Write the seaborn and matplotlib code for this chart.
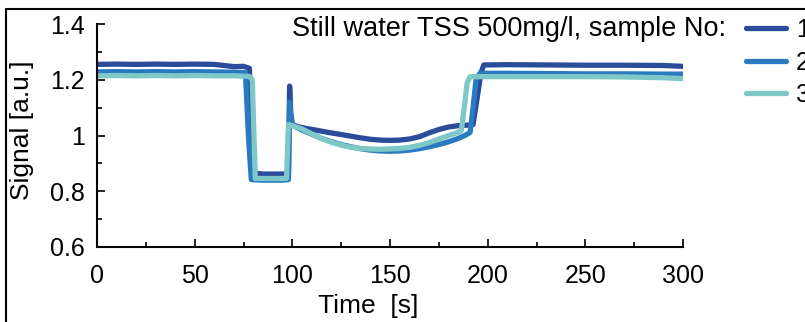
"""Signal vs time, still water TSS 500 mg/l, three samples."""

import matplotlib.pyplot as plt
import pandas as pd
import seaborn as sns
from matplotlib.lines import Line2D
from matplotlib.ticker import MultipleLocator

# sample 1 (dark blue)
t1 = [0, 10, 20, 30, 40, 50, 60, 65, 70, 75, 78, 79, 80, 85, 90, 95, 98,
      98.6, 99.2, 100, 103, 107, 112, 118, 125, 130, 135, 140, 145, 150,
      155, 160, 165, 170, 175, 180, 185, 190, 192.5, 194.5, 196.5, 198,
      210, 230, 250, 270, 290, 300]
v1 = [1.256, 1.257, 1.256, 1.257, 1.256, 1.257, 1.256, 1.252, 1.248, 1.249,
      1.242, 1.05, 0.866, 0.862, 0.862, 0.862, 0.862,
      1.178, 1.08, 1.04, 1.032, 1.026, 1.02, 1.012, 1.004, 0.998, 0.992, 0.987, 0.984, 0.983,
      0.984, 0.988, 0.996, 1.01, 1.022, 1.031, 1.036, 1.038, 1.04, 1.13, 1.225, 1.254,
      1.255, 1.254, 1.253, 1.253, 1.252, 1.249]

# sample 2 (mid blue)
t2 = [0, 10, 20, 30, 40, 50, 60, 70, 76, 77.5, 79, 85, 90, 95, 98,
      98.6, 99.3, 100, 102, 105, 110, 115, 120, 125, 130, 135, 140, 145, 150,
      155, 160, 165, 170, 175, 180, 185, 189, 191, 192.5, 194, 196,
      210, 230, 250, 270, 290, 300]
v2 = [1.229, 1.23, 1.229, 1.23, 1.229, 1.23, 1.229, 1.228, 1.226, 1.0, 0.842, 0.84, 0.84, 0.84, 0.842,
      1.12, 1.06, 1.04, 1.03, 1.02, 1.005, 0.99, 0.978, 0.968, 0.96, 0.953, 0.948, 0.945, 0.944,
      0.945, 0.948, 0.953, 0.96, 0.968, 0.978, 0.99, 1.003, 1.012, 1.1, 1.2, 1.224,
      1.224, 1.223, 1.222, 1.222, 1.221, 1.221]

# sample 3 (teal)
t3 = [0, 10, 20, 30, 40, 50, 60, 70, 78, 79.5, 81, 85, 90, 95, 97,
      98, 100, 105, 110, 115, 120, 125, 130, 135, 140, 145, 150,
      155, 160, 165, 170, 175, 180, 185, 186.5, 188, 189.5, 191,
      210, 230, 250, 270, 290, 300]
v3 = [1.215, 1.216, 1.215, 1.216, 1.215, 1.216, 1.215, 1.215, 1.213, 1.2, 0.846, 0.846, 0.846, 0.846, 0.846,
      1.04, 1.036, 1.024, 1.006, 0.99, 0.976, 0.966, 0.958, 0.954, 0.952, 0.951, 0.952,
      0.954, 0.958, 0.965, 0.975, 0.988, 1.0, 1.012, 1.018, 1.1, 1.19, 1.212,
      1.212, 1.212, 1.212, 1.211, 1.208, 1.205]

samples = ["1", "2", "3"]
colors = ["#2b4c9b", "#2a7ac2", "#7ec8c8"]

df = pd.concat([
    pd.DataFrame({"time": t, "signal": v, "sample": s})
    for t, v, s in zip([t1, t2, t3], [v1, v2, v3], samples)
])

sns.set_style("ticks")
plt.rcParams["font.family"] = ["Liberation Sans", "DejaVu Sans"]
plt.rcParams["text.color"] = "black"
plt.rcParams["axes.labelcolor"] = "black"
plt.rcParams["axes.edgecolor"] = "black"

fig = plt.figure(figsize=(8.05, 3.22), dpi=100)
ax = fig.add_axes([0.1205, 0.233, 0.728, 0.6915])

sns.lineplot(data=df, x="time", y="signal", hue="sample", palette=colors,
             estimator=None, sort=False, lw=3.8, ax=ax, legend=True)

ax.set_xlim(0, 300)
ax.set_ylim(0.6, 1.4)
ax.xaxis.set_major_locator(MultipleLocator(50))
ax.xaxis.set_minor_locator(MultipleLocator(25))
ax.yaxis.set_minor_locator(MultipleLocator(0.1))
ax.set_yticks([0.6, 0.8, 1.0, 1.2, 1.4], ["0.6", "0.8", "1", "1.2", "1.4"])
sns.despine(ax=ax)
for sp in ["left", "bottom"]:
    ax.spines[sp].set_linewidth(1.5)
ax.tick_params(which="both", direction="in", width=1.2, labelsize=18, colors="black")
ax.tick_params(which="major", length=6)
ax.tick_params(which="minor", length=3.5)
ax.tick_params(axis="x", which="major", pad=12)
ax.tick_params(axis="y", which="major", pad=9)

ax.set_xlabel("Time  [s]", fontsize=19)
ax.set_ylabel("Signal [a.u.]", fontsize=19)
ax.xaxis.set_label_coords(0.462, -0.212)
ax.yaxis.set_label_coords(-0.108, 0.525)

handles, labels = ax.get_legend_handles_labels()
ax.legend(handles, labels, loc="upper left", bbox_to_anchor=(746 / 805, 1 - 18 / 322),
          bbox_transform=fig.transFigure, frameon=False, fontsize=18,
          handlelength=1.6, handletextpad=0.4, labelspacing=0.34,
          borderpad=0, borderaxespad=0)
fig.text(726 / 805, 1 - 29 / 322, "Still water TSS 500mg/l, sample No:",
         ha="right", va="center", fontsize=19.5)

# outer frame (top and left edges visible in the original)
fig.add_artist(Line2D([6 / 805, 6 / 805], [0, 1 - 9 / 322], color="black", lw=1.5,
                      transform=fig.transFigure))
fig.add_artist(Line2D([6 / 805, 1], [1 - 9 / 322, 1 - 9 / 322], color="black", lw=1.5,
                      transform=fig.transFigure))

fig.savefig("out.png", dpi=100)
